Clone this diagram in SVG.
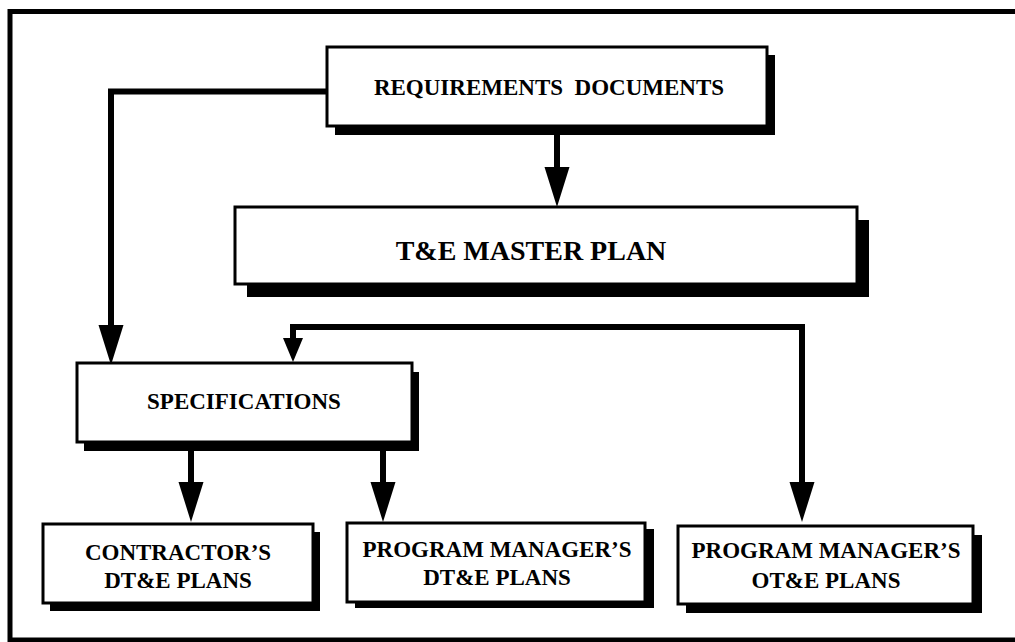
<svg xmlns="http://www.w3.org/2000/svg" width="1015" height="642" viewBox="0 0 1015 642">
<style>
.frame{fill:none;stroke:#000;stroke-width:5}
.shadow{fill:#000}
.box{fill:#fff;stroke:#000;stroke-width:3}
.lbl{font-family:'Liberation Serif','Tinos','DejaVu Serif',serif;font-weight:bold;font-size:23px;fill:#000;text-anchor:middle;white-space:pre}
.big{font-size:28px}
.conn{fill:none;stroke:#000;stroke-width:6;stroke-linejoin:miter;stroke-linecap:butt}
</style>
<defs>
<marker id="ah" markerUnits="userSpaceOnUse" markerWidth="42" markerHeight="30" refX="0" refY="15" orient="auto" overflow="visible">
<path d="M0,2.5 L40,15 L0,27.5 Z" fill="#000"/>
</marker>
<marker id="ahs" markerUnits="userSpaceOnUse" markerWidth="26" markerHeight="22" refX="0" refY="10" orient="auto-start-reverse" overflow="visible">
<path d="M0,0 L24,10 L0,20 Z" fill="#000"/>
</marker>
</defs>
<rect class="frame" x="10" y="11.5" width="1030" height="628.5"/>
<g id="connectors">
<path class="conn" d="M328,91.5 H111 V325" marker-end="url(#ah)"/>
<path class="conn" d="M557,130 V167" marker-end="url(#ah)"/>
<path class="conn" d="M293,338 V327 H802 V482" marker-start="url(#ahs)" marker-end="url(#ah)"/>
<path class="conn" d="M191,445 V482" marker-end="url(#ah)"/>
<path class="conn" d="M383,445 V482" marker-end="url(#ah)"/>
</g>
<g id="requirements">
<rect class="shadow" x="335" y="55" width="440" height="80"/>
<rect class="box" x="327" y="47" width="440" height="79"/>
<text class="lbl" font-family="Liberation Serif, serif" x="549" y="95">REQUIREMENTS  DOCUMENTS</text>
</g>
<g id="temp">
<rect class="shadow" x="247" y="220" width="622" height="77"/>
<rect class="box" x="235" y="207" width="622" height="77"/>
<text class="lbl big" font-family="Liberation Serif, serif" x="531" y="260">T&amp;E MASTER PLAN</text>
</g>
<g id="specifications">
<rect class="shadow" x="84" y="372" width="335" height="79"/>
<rect class="box" x="77" y="363" width="335" height="79"/>
<text class="lbl" font-family="Liberation Serif, serif" x="244" y="409">SPECIFICATIONS</text>
</g>
<g id="contractor">
<rect class="shadow" x="50" y="532" width="270" height="79"/>
<rect class="box" x="43" y="524" width="270" height="79"/>
<text class="lbl" font-family="Liberation Serif, serif" x="178" y="560">CONTRACTOR’S</text>
<text class="lbl" font-family="Liberation Serif, serif" x="178" y="588">DT&amp;E PLANS</text>
</g>
<g id="pm-dte">
<rect class="shadow" x="355" y="529" width="299" height="79"/>
<rect class="box" x="347" y="523" width="298" height="79"/>
<text class="lbl" font-family="Liberation Serif, serif" x="497" y="557">PROGRAM MANAGER’S</text>
<text class="lbl" font-family="Liberation Serif, serif" x="497" y="585">DT&amp;E PLANS</text>
</g>
<g id="pm-ote">
<rect class="shadow" x="686" y="535" width="296" height="78"/>
<rect class="box" x="678" y="526" width="295" height="78"/>
<text class="lbl" font-family="Liberation Serif, serif" x="826" y="558">PROGRAM MANAGER’S</text>
<text class="lbl" font-family="Liberation Serif, serif" x="826" y="588">OT&amp;E PLANS</text>
</g>
</svg>
